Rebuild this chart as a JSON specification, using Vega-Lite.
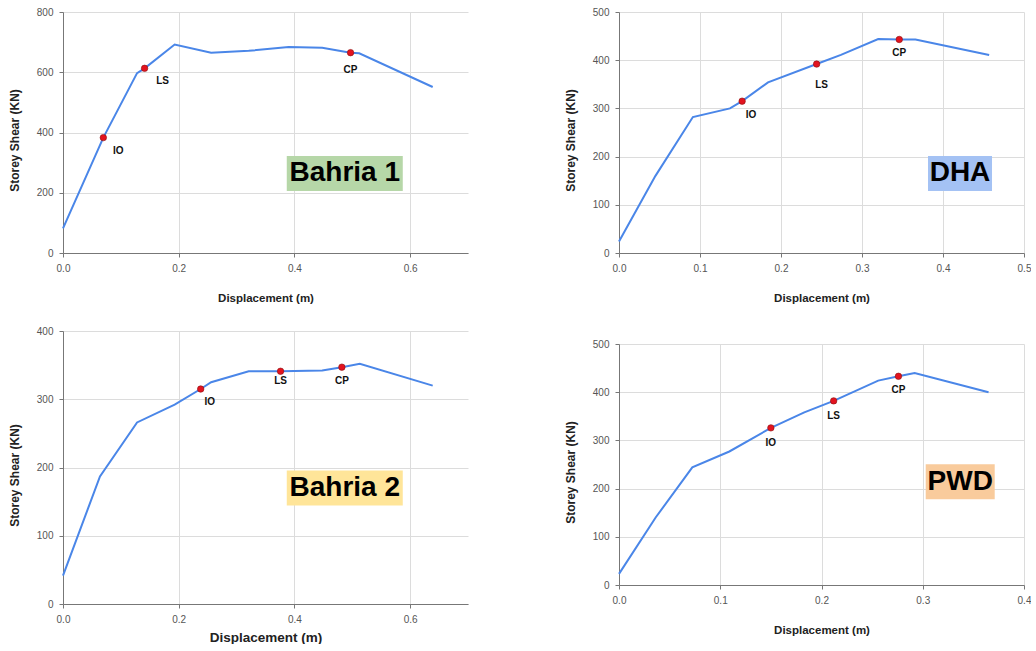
{
 "$schema": "https://vega.github.io/schema/vega-lite/v6.json",
 "padding": {"left": 8, "top": 7, "right": 0, "bottom": 0},
 "background": "white",
 "config": {
  "font": "Liberation Sans",
  "view": {"stroke": null},
  "axis": {"labelFont": "Liberation Sans", "labelFontSize": 10, "labelColor": "#555", "labelPadding": 6, "labelFlush": false, "tickSize": 4, "tickColor": "#777", "domainColor": "#777", "gridColor": "#dcdcdc", "titleFont": "Liberation Sans", "titleFontSize": 11.5, "titleFontWeight": "bold", "titleColor": "#222"},
  "axisX": {"titlePadding": 19},
  "axisY": {"titlePadding": 15, "titleFontSize": 12}
 },
 "datasets": {
  "b1c": [{"d":0,"v":82},{"d":0.0697,"v":383},{"d":0.128,"v":597},{"d":0.141,"v":613},{"d":0.193,"v":692},{"d":0.256,"v":665},{"d":0.321,"v":671},{"d":0.39,"v":684},{"d":0.448,"v":681},{"d":0.497,"v":665},{"d":0.512,"v":663},{"d":0.639,"v":551}],
  "b1p": [{"d":0.0697,"v":383,"k":"IO"},{"d":0.141,"v":613,"k":"LS"},{"d":0.497,"v":665,"k":"CP"}],
  "b1b": [{"d":0.487,"v":264,"name":"Bahria 1"}],
  "b2c": [{"d":0,"v":41.5},{"d":0.0639,"v":187},{"d":0.128,"v":266},{"d":0.193,"v":292},{"d":0.238,"v":315},{"d":0.256,"v":325},{"d":0.321,"v":341},{"d":0.376,"v":341},{"d":0.448,"v":342},{"d":0.482,"v":347},{"d":0.513,"v":352},{"d":0.639,"v":320}],
  "b2p": [{"d":0.238,"v":315,"k":"IO"},{"d":0.376,"v":341,"k":"LS"},{"d":0.482,"v":347,"k":"CP"}],
  "b2b": [{"d":0.487,"v":170,"name":"Bahria 2"}],
  "dhc": [{"d":0,"v":24},{"d":0.045,"v":160},{"d":0.0912,"v":282},{"d":0.137,"v":300},{"d":0.152,"v":315},{"d":0.184,"v":354},{"d":0.244,"v":392},{"d":0.274,"v":411},{"d":0.32,"v":444},{"d":0.346,"v":443},{"d":0.366,"v":443},{"d":0.457,"v":411}],
  "dhp": [{"d":0.152,"v":315,"k":"IO"},{"d":0.244,"v":392,"k":"LS"},{"d":0.346,"v":443,"k":"CP"}],
  "dhb": [{"d":0.421,"v":165,"name":"DHA"}],
  "pwc": [{"d":0,"v":23},{"d":0.0362,"v":140},{"d":0.0724,"v":244},{"d":0.109,"v":277},{"d":0.15,"v":326},{"d":0.183,"v":358},{"d":0.212,"v":382},{"d":0.256,"v":424},{"d":0.276,"v":433},{"d":0.292,"v":440},{"d":0.365,"v":400}],
  "pwp": [{"d":0.15,"v":326,"k":"IO"},{"d":0.212,"v":382,"k":"LS"},{"d":0.276,"v":433,"k":"CP"}],
  "pwb": [{"d":0.337,"v":214,"name":"PWD"}]
 },
 "spacing": 96,
 "hconcat": [
  {"spacing": 22, "vconcat": [
   {"width": 405, "height": 241, "layer": [
    {"data": {"name": "b1b"}, "mark": {"type": "point", "shape": "M-1,-0.302H1V0.302H-1Z", "size": 13456, "filled": true, "fill": "#b6d7a8", "opacity": 1, "strokeWidth": 0},
     "encoding": {"x": {"field": "d", "type": "quantitative", "scale": {"domain": [0, 0.7], "nice": false}, "axis": {"values": [0, 0.2, 0.4, 0.6], "format": ".1f", "title": "Displacement (m)"}},
                  "y": {"field": "v", "type": "quantitative", "scale": {"domain": [0, 800], "nice": false}, "axis": {"values": [0, 200, 400, 600, 800], "title": "Storey Shear (KN)", "titleY": 128}}}},
    {"data": {"name": "b1b"}, "mark": {"type": "text", "fontSize": 28, "fontWeight": "bold", "align": "center", "baseline": "middle", "color": "#000"}, "encoding": {"x": {"field": "d", "type": "quantitative"}, "y": {"field": "v", "type": "quantitative"}, "text": {"field": "name"}}},
    {"data": {"name": "b1c"}, "mark": {"type": "line", "color": "#4a86e8", "strokeWidth": 2}, "encoding": {"x": {"field": "d", "type": "quantitative"}, "y": {"field": "v", "type": "quantitative"}}},
    {"data": {"name": "b1p"}, "mark": {"type": "point", "filled": true, "fill": "#e3131f", "stroke": "#8a1010", "strokeWidth": 0.6, "opacity": 1, "size": 42}, "encoding": {"x": {"field": "d", "type": "quantitative"}, "y": {"field": "v", "type": "quantitative"}}},
    {"data": {"name": "b1p"}, "transform": [{"filter": "datum.k === 'IO'"}], "mark": {"type": "text", "dx": 15, "dy": 13, "fontSize": 10, "fontWeight": "bold", "color": "#111"}, "encoding": {"x": {"field": "d", "type": "quantitative"}, "y": {"field": "v", "type": "quantitative"}, "text": {"field": "k"}}},
    {"data": {"name": "b1p"}, "transform": [{"filter": "datum.k === 'LS'"}], "mark": {"type": "text", "dx": 18, "dy": 13, "fontSize": 10, "fontWeight": "bold", "color": "#111"}, "encoding": {"x": {"field": "d", "type": "quantitative"}, "y": {"field": "v", "type": "quantitative"}, "text": {"field": "k"}}},
    {"data": {"name": "b1p"}, "transform": [{"filter": "datum.k === 'CP'"}], "mark": {"type": "text", "dx": 0, "dy": 17, "fontSize": 10, "fontWeight": "bold", "color": "#111"}, "encoding": {"x": {"field": "d", "type": "quantitative"}, "y": {"field": "v", "type": "quantitative"}, "text": {"field": "k"}}}
   ]},
   {"width": 405, "height": 273, "layer": [
    {"data": {"name": "b2b"}, "mark": {"type": "point", "shape": "M-1,-0.302H1V0.302H-1Z", "size": 13456, "filled": true, "fill": "#ffe599", "opacity": 1, "strokeWidth": 0},
     "encoding": {"x": {"field": "d", "type": "quantitative", "scale": {"domain": [0, 0.7], "nice": false}, "axis": {"values": [0, 0.2, 0.4, 0.6], "format": ".1f", "title": "Displacement (m)", "titleFontSize": 13.5, "titlePadding": 6}},
                  "y": {"field": "v", "type": "quantitative", "scale": {"domain": [0, 400], "nice": false}, "axis": {"values": [0, 100, 200, 300, 400], "title": "Storey Shear (KN)", "titleY": 144}}}},
    {"data": {"name": "b2b"}, "mark": {"type": "text", "fontSize": 28, "fontWeight": "bold", "align": "center", "baseline": "middle", "color": "#000"}, "encoding": {"x": {"field": "d", "type": "quantitative"}, "y": {"field": "v", "type": "quantitative"}, "text": {"field": "name"}}},
    {"data": {"name": "b2c"}, "mark": {"type": "line", "color": "#4a86e8", "strokeWidth": 2}, "encoding": {"x": {"field": "d", "type": "quantitative"}, "y": {"field": "v", "type": "quantitative"}}},
    {"data": {"name": "b2p"}, "mark": {"type": "point", "filled": true, "fill": "#e3131f", "stroke": "#8a1010", "strokeWidth": 0.6, "opacity": 1, "size": 42}, "encoding": {"x": {"field": "d", "type": "quantitative"}, "y": {"field": "v", "type": "quantitative"}}},
    {"data": {"name": "b2p"}, "transform": [{"filter": "datum.k === 'IO'"}], "mark": {"type": "text", "dx": 9, "dy": 13, "fontSize": 10, "fontWeight": "bold", "color": "#111"}, "encoding": {"x": {"field": "d", "type": "quantitative"}, "y": {"field": "v", "type": "quantitative"}, "text": {"field": "k"}}},
    {"data": {"name": "b2p"}, "transform": [{"filter": "datum.k === 'LS'"}], "mark": {"type": "text", "dx": 0, "dy": 10, "fontSize": 10, "fontWeight": "bold", "color": "#111"}, "encoding": {"x": {"field": "d", "type": "quantitative"}, "y": {"field": "v", "type": "quantitative"}, "text": {"field": "k"}}},
    {"data": {"name": "b2p"}, "transform": [{"filter": "datum.k === 'CP'"}], "mark": {"type": "text", "dx": 0, "dy": 14, "fontSize": 10, "fontWeight": "bold", "color": "#111"}, "encoding": {"x": {"field": "d", "type": "quantitative"}, "y": {"field": "v", "type": "quantitative"}, "text": {"field": "k"}}}
   ]}
  ]},
  {"spacing": 35, "vconcat": [
   {"width": 405, "height": 241, "layer": [
    {"data": {"name": "dhb"}, "mark": {"type": "point", "shape": "M-1,-0.547H1V0.547H-1Z", "size": 4096, "filled": true, "fill": "#a4c2f4", "opacity": 1, "strokeWidth": 0},
     "encoding": {"x": {"field": "d", "type": "quantitative", "scale": {"domain": [0, 0.5], "nice": false}, "axis": {"values": [0, 0.1, 0.2, 0.3, 0.4, 0.5], "format": ".1f", "title": "Displacement (m)"}},
                  "y": {"field": "v", "type": "quantitative", "scale": {"domain": [0, 500], "nice": false}, "axis": {"values": [0, 100, 200, 300, 400, 500], "title": "Storey Shear (KN)", "titleY": 128}}}},
    {"data": {"name": "dhb"}, "mark": {"type": "text", "fontSize": 28, "fontWeight": "bold", "align": "center", "baseline": "middle", "color": "#000"}, "encoding": {"x": {"field": "d", "type": "quantitative"}, "y": {"field": "v", "type": "quantitative"}, "text": {"field": "name"}}},
    {"data": {"name": "dhc"}, "mark": {"type": "line", "color": "#4a86e8", "strokeWidth": 2}, "encoding": {"x": {"field": "d", "type": "quantitative"}, "y": {"field": "v", "type": "quantitative"}}},
    {"data": {"name": "dhp"}, "mark": {"type": "point", "filled": true, "fill": "#e3131f", "stroke": "#8a1010", "strokeWidth": 0.6, "opacity": 1, "size": 42}, "encoding": {"x": {"field": "d", "type": "quantitative"}, "y": {"field": "v", "type": "quantitative"}}},
    {"data": {"name": "dhp"}, "transform": [{"filter": "datum.k === 'IO'"}], "mark": {"type": "text", "dx": 9, "dy": 14, "fontSize": 10, "fontWeight": "bold", "color": "#111"}, "encoding": {"x": {"field": "d", "type": "quantitative"}, "y": {"field": "v", "type": "quantitative"}, "text": {"field": "k"}}},
    {"data": {"name": "dhp"}, "transform": [{"filter": "datum.k === 'LS'"}], "mark": {"type": "text", "dx": 5, "dy": 21, "fontSize": 10, "fontWeight": "bold", "color": "#111"}, "encoding": {"x": {"field": "d", "type": "quantitative"}, "y": {"field": "v", "type": "quantitative"}, "text": {"field": "k"}}},
    {"data": {"name": "dhp"}, "transform": [{"filter": "datum.k === 'CP'"}], "mark": {"type": "text", "dx": 0, "dy": 14, "fontSize": 10, "fontWeight": "bold", "color": "#111"}, "encoding": {"x": {"field": "d", "type": "quantitative"}, "y": {"field": "v", "type": "quantitative"}, "text": {"field": "k"}}}
   ]},
   {"width": 405, "height": 241, "layer": [
    {"data": {"name": "pwb"}, "mark": {"type": "point", "shape": "M-1,-0.507H1V0.507H-1Z", "size": 4761, "filled": true, "fill": "#f9cb9c", "opacity": 1, "strokeWidth": 0},
     "encoding": {"x": {"field": "d", "type": "quantitative", "scale": {"domain": [0, 0.4], "nice": false}, "axis": {"values": [0, 0.1, 0.2, 0.3, 0.4], "format": ".1f", "title": "Displacement (m)"}},
                  "y": {"field": "v", "type": "quantitative", "scale": {"domain": [0, 500], "nice": false}, "axis": {"values": [0, 100, 200, 300, 400, 500], "title": "Storey Shear (KN)", "titleY": 128}}}},
    {"data": {"name": "pwb"}, "mark": {"type": "text", "fontSize": 28, "fontWeight": "bold", "align": "center", "baseline": "middle", "color": "#000"}, "encoding": {"x": {"field": "d", "type": "quantitative"}, "y": {"field": "v", "type": "quantitative"}, "text": {"field": "name"}}},
    {"data": {"name": "pwc"}, "mark": {"type": "line", "color": "#4a86e8", "strokeWidth": 2}, "encoding": {"x": {"field": "d", "type": "quantitative"}, "y": {"field": "v", "type": "quantitative"}}},
    {"data": {"name": "pwp"}, "mark": {"type": "point", "filled": true, "fill": "#e3131f", "stroke": "#8a1010", "strokeWidth": 0.6, "opacity": 1, "size": 42}, "encoding": {"x": {"field": "d", "type": "quantitative"}, "y": {"field": "v", "type": "quantitative"}}},
    {"data": {"name": "pwp"}, "transform": [{"filter": "datum.k === 'IO'"}], "mark": {"type": "text", "dx": 0, "dy": 15, "fontSize": 10, "fontWeight": "bold", "color": "#111"}, "encoding": {"x": {"field": "d", "type": "quantitative"}, "y": {"field": "v", "type": "quantitative"}, "text": {"field": "k"}}},
    {"data": {"name": "pwp"}, "transform": [{"filter": "datum.k === 'LS'"}], "mark": {"type": "text", "dx": 0, "dy": 15, "fontSize": 10, "fontWeight": "bold", "color": "#111"}, "encoding": {"x": {"field": "d", "type": "quantitative"}, "y": {"field": "v", "type": "quantitative"}, "text": {"field": "k"}}},
    {"data": {"name": "pwp"}, "transform": [{"filter": "datum.k === 'CP'"}], "mark": {"type": "text", "dx": 0, "dy": 14, "fontSize": 10, "fontWeight": "bold", "color": "#111"}, "encoding": {"x": {"field": "d", "type": "quantitative"}, "y": {"field": "v", "type": "quantitative"}, "text": {"field": "k"}}}
   ]}
  ]}
 ]
}
